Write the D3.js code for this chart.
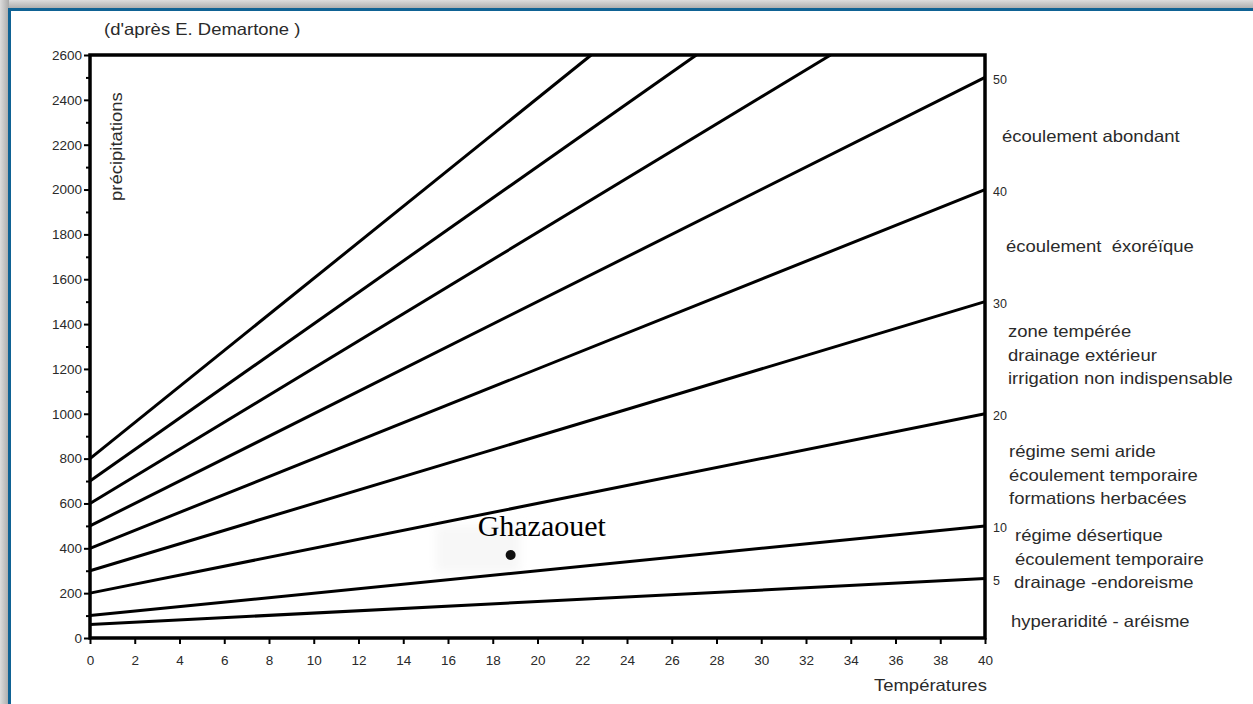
<!DOCTYPE html>
<html>
<head>
<meta charset="utf-8">
<script src="https://cdn.jsdelivr.net/npm/d3@7"></script>
<style>
    body { margin: 0; background: #fff; }
    svg text { font-family: "Liberation Sans", Arial, sans-serif; fill: #2a2a2a; white-space: pre; }
</style>
</head>
<body>
<svg id="chart" width="1253" height="704"></svg>
<script>
/** Aridity index of each De Martonne line (P / (T + 10)) */
var indexValues = [5, 10, 20, 30, 40, 50, 60, 70, 80];

/** Line start (T = 0) and end points */
var lineStartP = [60, 100, 200, 300, 400, 500, 600, 700, 800];
var lineEndT = [40, 40, 40, 40, 40, 40, 33.1, 27.1, 22.4];
var lineEndP = [265, 500, 1000, 1500, 2000, 2500, 2600, 2600, 2600];

/** Right side labels for the lines that reach T = 40 */
var rightLabels = ['50', '40', '30', '20', '10', '5'];
var rightLabelP = [2500, 2000, 1500, 1000, 500, 265];

/** Axis ticks */
var xTicks = [0, 2, 4, 6, 8, 10, 12, 14, 16, 18, 20, 22, 24, 26, 28, 30, 32, 34, 36, 38, 40];
var yTicks = [0, 200, 400, 600, 800, 1000, 1200, 1400, 1600, 1800, 2000, 2200, 2400, 2600];
var yMinorTicks = [100, 300, 500, 700, 900, 1100, 1300, 1500, 1700, 1900, 2100, 2300, 2500];
var xTickLabels = ['0', '2', '4', '6', '8', '10', '12', '14', '16', '18', '20', '22', '24', '26', '28', '30', '32', '34', '36', '38', '40'];
var yTickLabels = ['0', '200', '400', '600', '800', '1000', '1200', '1400', '1600', '1800', '2000', '2200', '2400', '2600'];

/** Station plotted on the chart */
var stationNames = ['Ghazaouet'];
var stationT = [18.8];
var stationP = [370];

/** Zone descriptions on the right, one array of lines per zone */
var zoneTexts = [
    ['écoulement abondant'],
    ['écoulement  éxoréïque'],
    ['zone tempérée', 'drainage extérieur', 'irrigation non indispensable'],
    ['régime semi aride', 'écoulement temporaire', 'formations herbacées'],
    ['régime désertique', 'écoulement temporaire', 'drainage -endoreisme'],
    ['hyperaridité - aréisme']
];

/** Plot box in pixels */
var plotLeft = 90,
    plotRight = 985,
    plotTop = 55,
    plotBottom = 638;

var svg = d3.select('#chart');

var xScale = d3.scaleLinear().domain([0, 40]).range([plotLeft, plotRight]);
var yScale = d3.scaleLinear().domain([0, 2600]).range([plotBottom, plotTop]);

/** helper for horizontally stretched text like the scanned figure */
function addText(x, y, str, size, rotate) {
    var g = svg.append('g')
        .attr('transform', 'translate(' + x + ',' + y + ')' + (rotate ? ' rotate(' + rotate + ')' : '') + ' scale(1.12,1)');
    return g.append('text')
        .attr('dominant-baseline', 'middle')
        .style('font-size', size + 'px')
        .text(str);
}

// ---- frame with shadow ----
var defs = svg.append('defs');
var gTop = defs.append('linearGradient').attr('id', 'shTop').attr('x1', 0).attr('y1', 0).attr('x2', 0).attr('y2', 1);
gTop.append('stop').attr('offset', '0%').attr('stop-color', '#dcdcdc');
gTop.append('stop').attr('offset', '100%').attr('stop-color', '#a9a9a9');
var gLeft = defs.append('linearGradient').attr('id', 'shLeft').attr('x1', 0).attr('y1', 0).attr('x2', 1).attr('y2', 0);
gLeft.append('stop').attr('offset', '0%').attr('stop-color', '#dcdcdc');
gLeft.append('stop').attr('offset', '100%').attr('stop-color', '#a9a9a9');
var blur = defs.append('filter').attr('id', 'soft').attr('x', '-20%').attr('y', '-20%').attr('width', '140%').attr('height', '140%');
blur.append('feGaussianBlur').attr('stdDeviation', 5);

svg.append('rect').attr('x', 0).attr('y', 0).attr('width', 1253).attr('height', 9).attr('fill', 'url(#shTop)');
svg.append('rect').attr('x', 0).attr('y', 0).attr('width', 9).attr('height', 704).attr('fill', 'url(#shLeft)');
svg.append('rect')
    .attr('x', 9.5).attr('y', 9.5)
    .attr('width', 1260).attr('height', 720)
    .attr('fill', '#fff')
    .attr('stroke', '#0f6294')
    .attr('stroke-width', 3);

// ---- title ----
addText(104, 31, "(d'après E. Demartone )", 16.5);

// faint smudge behind the station point
svg.append('rect')
    .attr('x', 436).attr('y', 526)
    .attr('width', 84).attr('height', 46)
    .attr('fill', '#f7f7f7')
    .attr('filter', 'url(#soft)');

// ---- index lines ----
var lineData = indexValues.map(function(v, i) {
    return [[0, lineStartP[i]], [lineEndT[i], lineEndP[i]]];
});
var line = d3.line()
    .x(function(d) { return xScale(d[0]); })
    .y(function(d) { return yScale(d[1]); });

svg.append('g').selectAll('path')
    .data(lineData)
    .enter()
    .append('path')
    .attr('d', line)
    .attr('fill', 'none')
    .attr('stroke', '#000')
    .attr('stroke-width', 3);

// ---- plot frame ----
svg.append('rect')
    .attr('x', plotLeft).attr('y', plotTop)
    .attr('width', plotRight - plotLeft).attr('height', plotBottom - plotTop)
    .attr('fill', 'none')
    .attr('stroke', '#000')
    .attr('stroke-width', 3.5);

// ---- axes ----
var yAxis = d3.axisLeft(yScale)
    .tickValues(yTicks)
    .tickSize(6)
    .tickPadding(2)
    .tickFormat(function(d, i) { return yTickLabels[i]; });
var gy = svg.append('g').attr('transform', 'translate(' + plotLeft + ',0)').call(yAxis);
gy.select('.domain').remove();
gy.selectAll('line').attr('stroke', '#000').attr('stroke-width', 2);
gy.selectAll('text').style('font-size', '13.5px').attr('fill', '#222').style('font-family', '"Liberation Sans", Arial, sans-serif');

var yMinor = d3.axisLeft(yScale).tickValues(yMinorTicks).tickSize(4).tickFormat('');
var gym = svg.append('g').attr('transform', 'translate(' + plotLeft + ',0)').call(yMinor);
gym.select('.domain').remove();
gym.selectAll('line').attr('stroke', '#000').attr('stroke-width', 2);

var xAxis = d3.axisBottom(xScale)
    .tickValues(xTicks)
    .tickSize(6)
    .tickPadding(11)
    .tickFormat(function(d, i) { return xTickLabels[i]; });
var gx = svg.append('g').attr('transform', 'translate(0,' + plotBottom + ')').call(xAxis);
gx.select('.domain').remove();
gx.selectAll('line').attr('stroke', '#000').attr('stroke-width', 2);
gx.selectAll('text').style('font-size', '13.5px').attr('fill', '#222').style('font-family', '"Liberation Sans", Arial, sans-serif');

// ---- axis titles ----
addText(122, 201, 'précipitations', 16.5, -90).attr('dominant-baseline', 'auto');
addText(874, 687, 'Températures', 16.5);

// ---- index labels on the right ----
svg.append('g').selectAll('text')
    .data(rightLabels)
    .enter()
    .append('text')
    .attr('x', plotRight + 8)
    .attr('y', function(d, i) { return yScale(rightLabelP[i]) + 3; })
    .attr('dominant-baseline', 'middle')
    .style('font-size', '12.5px')
    .text(function(d) { return d; });

// ---- zone descriptions ----
var zoneX = [1002, 1006, 1008, 1009, 1015, 1011];
var zoneY = [138, 248, 333, 453, 537, 623];
var lineGap = 23.5;
zoneTexts.forEach(function(lines, i) {
    lines.forEach(function(s, j) {
        var dx = (i == 4 && j == 2) ? -1 : 0;
        addText(zoneX[i] + dx, zoneY[i] + j * lineGap, s, 16.5);
    });
});

// ---- station ----
svg.append('g').selectAll('circle')
    .data(stationNames)
    .enter()
    .append('circle')
    .attr('cx', function(d, i) { return xScale(stationT[i]); })
    .attr('cy', function(d, i) { return yScale(stationP[i]); })
    .attr('r', 5)
    .attr('fill', '#111');

svg.append('g').selectAll('text')
    .data(stationNames)
    .enter()
    .append('text')
    .attr('x', function(d, i) { return xScale(stationT[i]) - 33; })
    .attr('y', function(d, i) { return yScale(stationP[i]) - 19; })
    .style('font-family', '"Liberation Serif", "Times New Roman", serif')
    .style('font-size', '30px')
    .style('fill', '#000')
    .text(function(d) { return d; });
</script>
</body>
</html>
